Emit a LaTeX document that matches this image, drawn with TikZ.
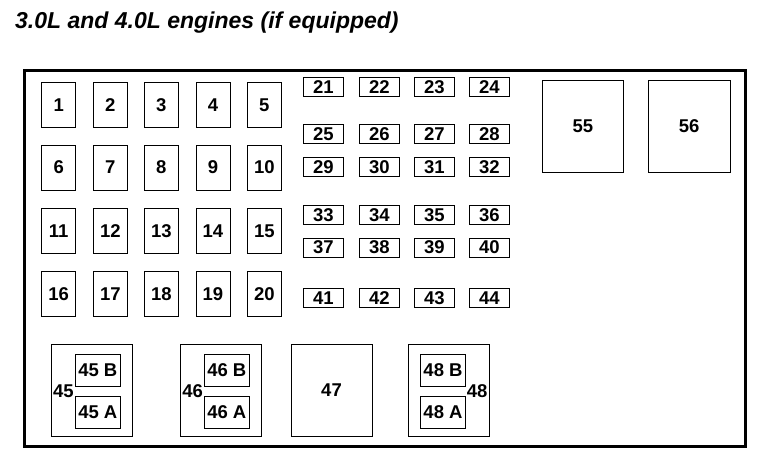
\documentclass[tikz,border=0pt]{standalone}
\usepackage{fontspec}
\setmainfont{Liberation Sans}
\begin{document}
\begin{tikzpicture}[x=1pt,y=-1pt,
  numfont/.style={font=\fontsize{18.5}{18.5}\selectfont\bfseries},
  bigfuse/.style={draw, line width=0.9pt, minimum width=34pt, minimum height=45pt, inner sep=0pt, numfont},
  minifuse/.style={draw, line width=0.9pt, minimum width=40pt, minimum height=19pt, inner sep=0pt, numfont},
  relay/.style={draw, line width=0.9pt, minimum width=81pt, minimum height=92pt, inner sep=0pt, numfont},
  subrelay/.style={draw, line width=0.9pt, minimum width=45pt, minimum height=32pt, inner sep=0pt, numfont},
  lbl/.style={inner sep=0pt, numfont}]
\useasboundingbox (0,0) rectangle (773,470);
\node[anchor=base west, inner sep=0pt, font=\fontsize{23}{23}\selectfont\bfseries\itshape] (title) at (15,29) {3.0L and 4.0L engines (if equipped)};
\draw[line width=3pt] (24,71) rectangle (745,446);
% big fuses
\foreach \r/\y in {0/104.8,1/167.5,2/230.8,3/293.7}{
  \foreach \c/\x in {1/58.7,2/110.3,3/161.3,4/213,5/264.3}{
    \pgfmathtruncatemacro{\n}{\r*5+\c}
    \node[bigfuse] (f\n) at (\x,\y) {\n};
  }
}
% mini fuses
\foreach \r/\y in {0/86.7,1/133.7,2/166.7,3/214.7,4/247.5,5/297.8}{
  \foreach \c/\x in {1/323.3,2/379.3,3/434.3,4/489.3}{
    \pgfmathtruncatemacro{\n}{20+\r*4+\c}
    \node[minifuse] (f\n) at (\x,\y) {\n};
  }
}
% relays 55, 56
\node[relay] (r55) at (582.8,126.2) {55};
\node[relay, minimum width=81.7pt] (r56) at (689.2,126.2) {56};
% relay 45
\node[relay] (r45) at (91.7,390.3) {};
\node[subrelay] (r45b) at (97.8,370) {45 B};
\node[subrelay] (r45a) at (97.8,412.2) {45 A};
\node[lbl] (l45) at (63.5,391) {45};
% relay 46
\node[relay] (r46) at (220.7,390.3) {};
\node[subrelay] (r46b) at (226.8,370) {46 B};
\node[subrelay] (r46a) at (226.8,412.2) {46 A};
\node[lbl] (l46) at (192.7,391) {46};
% relay 47
\node[relay] (r47) at (331.5,390.3) {47};
% relay 48
\node[relay] (r48) at (448.8,390.3) {};
\node[subrelay] (r48b) at (443,370) {48 B};
\node[subrelay] (r48a) at (443,412.2) {48 A};
\node[lbl] (l48) at (477.2,391) {48};
\end{tikzpicture}
\end{document}
